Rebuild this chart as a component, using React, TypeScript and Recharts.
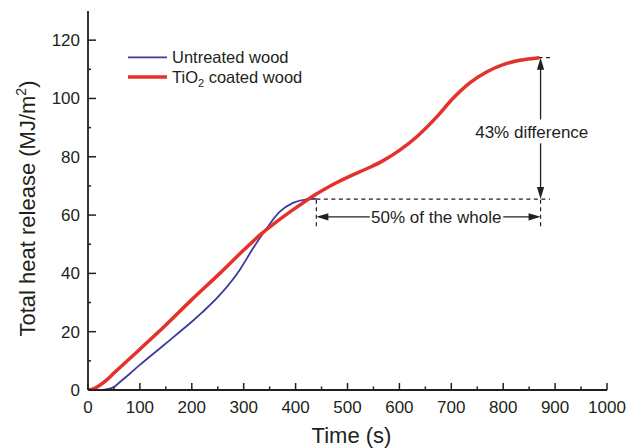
import React from 'react';
import {
  ComposedChart,
  Line,
  XAxis,
  YAxis,
  Legend,
  ReferenceLine,
  ReferenceDot,
  Label,
} from 'recharts';

// Cumulative heat release curves (time in s, THR in MJ/m2)
const untreatedTime = [0, 20, 35, 50, 60, 80, 100, 140, 177, 200, 220, 254, 292, 318, 344, 369, 395, 421, 440];
const untreatedTHR = [0, 0, 0.2, 1.0, 2.5, 5.5, 8.6, 14.5, 20, 23.4, 26.6, 32.6, 41.1, 48.6, 55.4, 61.1, 64.2, 65.4, 65.6];

const coatedTime = [0, 10, 20, 35, 50, 100, 150, 200, 254, 300, 331, 370, 408, 440, 472, 504, 536, 568, 600, 633, 671, 703, 735, 768, 800, 832, 870];
const coatedTHR = [0, 0.4, 1.3, 3.3, 5.8, 14, 22.3, 31, 40, 48, 53.1, 58.6, 63.4, 67.2, 70.5, 73.3, 75.8, 78.6, 82.2, 86.8, 93.5, 100, 105.3, 109.1, 111.6, 113.1, 114];

// Axis ticks
const timeTicks = [0, 50, 100, 150, 200, 250, 300, 350, 400, 450, 500, 550, 600, 650, 700, 750, 800, 850, 900, 950, 1000];
const thrTicks = [0, 10, 20, 30, 40, 50, 60, 70, 80, 90, 100, 110, 120];
const topTicks = [0, 100, 200, 300, 400, 500, 600, 700, 800, 900, 1000];
const rightTicks = [0, 13, 26, 39, 52, 65, 78, 91, 104, 117, 130];

// Series names, in legend order
const seriesNames = ['Untreated wood', 'TiO2 coated wood'];

// Annotation values
const untreatedTotal = 65.5;
const coatedTotal = 114;
const untreatedEnd = 440;
const coatedEnd = 872;
const dashEnd = 890;
const spanLevel = 59.4;
const spanTextGap = [543, 800];
const spanTextCenter = 671;
const diffTextGap = [84.6, 92.8];
const diffTextCenter = 855;
const diffTextLevel = 88.4;
const tickStubRange = [56.2, 65.5];

const untreatedData = untreatedTime.map((t, i) => ({ t, v: untreatedTHR[i] }));
const coatedData = coatedTime.map((t, i) => ({ t, v: coatedTHR[i] }));

const FONT = '"Liberation Sans", Arial, Helvetica, sans-serif';
const INK = '#231f20';
const BLUE = '#3b3a9e';
const RED = '#e4312a';

const XTick = (props: any) => {
  const { x, y, payload } = props;
  const v = payload.value;
  const major = v % 100 === 0;
  return (
    <g>
      <line x1={x} x2={x} y1={y} y2={y - (major ? 7 : 3.5)} stroke={INK} strokeWidth={1.5} />
      {major && (
        <text x={x} y={y + 23} textAnchor="middle" fontSize={17} fontFamily={FONT} fill={INK}>
          {v}
        </text>
      )}
    </g>
  );
};

const YTick = (props: any) => {
  const { x, y, payload } = props;
  const v = payload.value;
  const major = v % 20 === 0;
  return (
    <g>
      <line x1={x} x2={x + (major ? 8 : 3)} y1={y} y2={y} stroke={INK} strokeWidth={1.5} />
      {major && (
        <text x={x - 8} y={y + 6} textAnchor="end" fontSize={17} fontFamily={FONT} fill={INK}>
          {v}
        </text>
      )}
    </g>
  );
};

const TopTick = (props: any) => {
  const { x, y } = props;
  return <line x1={x} x2={x} y1={y} y2={y + 2.5} stroke={INK} strokeWidth={1.2} />;
};

const RightTick = (props: any) => {
  const { x, y } = props;
  return <line x1={x} x2={x - 2.5} y1={y} y2={y} stroke={INK} strokeWidth={1.2} />;
};

const renderLegend = (props: any) => {
  const items = [...(props.payload || [])].sort(
    (a: any, b: any) => seriesNames.indexOf(a.value) - seriesNames.indexOf(b.value)
  );
  return (
    <svg width={220} height={46} style={{ overflow: 'visible' }}>
      {items.map((item: any, i: number) => {
        const ly = 12.3 + i * 19.7;
        const isCoated = item.value === seriesNames[1];
        return (
          <g key={i}>
            <line x1={8} x2={47} y1={ly} y2={ly} stroke={item.color} strokeWidth={isCoated ? 3.5 : 1.8} />
            <text x={52} y={ly + 6} fontSize={16.5} fontFamily={FONT} fill={INK}>
              {isCoated ? (
                <>
                  TiO
                  <tspan fontSize={11} dy={4}>2</tspan>
                  <tspan dy={-4}> coated wood</tspan>
                </>
              ) : (
                item.value
              )}
            </text>
          </g>
        );
      })}
    </svg>
  );
};

const arrowHead = (dir: 'up' | 'down' | 'left' | 'right') => (props: any) => {
  const { cx, cy } = props;
  const L = 12;
  const W = 3.6;
  let pts = '';
  if (dir === 'up') pts = `${cx},${cy} ${cx - W},${cy + L} ${cx + W},${cy + L}`;
  if (dir === 'down') pts = `${cx},${cy} ${cx - W},${cy - L} ${cx + W},${cy - L}`;
  if (dir === 'left') pts = `${cx},${cy} ${cx + L},${cy - W} ${cx + L},${cy + W}`;
  if (dir === 'right') pts = `${cx},${cy} ${cx - L},${cy - W} ${cx - L},${cy + W}`;
  return <polygon points={pts} fill={INK} />;
};

const textShape = (label: string) => (props: any) => {
  const { cx, cy } = props;
  return (
    <text x={cx} y={cy + 6} textAnchor="middle" fontSize={17} fontFamily={FONT} fill={INK}>
      {label}
    </text>
  );
};

const YTitle = (props: any) => {
  const vb = props.viewBox || { x: 0, y: 0, width: 88, height: 379 };
  const cx = vb.x + 35;
  const cy = vb.y + vb.height / 2 + 8;
  return (
    <text
      x={cx}
      y={cy}
      transform={`rotate(-90 ${cx} ${cy})`}
      textAnchor="middle"
      fontSize={22}
      fontFamily={FONT}
      fill={INK}
    >
      Total heat release (MJ/m
      <tspan fontSize={14} dy={-9}>2</tspan>
      <tspan dy={9}>)</tspan>
    </text>
  );
};

const XTitle = (props: any) => {
  const vb = props.viewBox || { x: 88, y: 390, width: 519, height: 58 };
  return (
    <text
      x={vb.x + vb.width / 2 + 4}
      y={vb.y + 52.5}
      textAnchor="middle"
      fontSize={22}
      fontFamily={FONT}
      fill={INK}
    >
      Time (s)
    </text>
  );
};

export default function App() {
  const dash = '4 3.5';
  return (
    <div style={{ position: 'absolute', left: 0, top: 0, width: 628, height: 448, background: '#fff' }}>
      <ComposedChart width={628} height={448} margin={{ top: 11, right: 21, bottom: 0, left: 0 }}>
        <XAxis
          xAxisId="x"
          dataKey="t"
          type="number"
          domain={[0, 1000]}
          ticks={timeTicks}
          interval={0}
          tickSize={0}
          tickMargin={0}
          height={58}
          tickLine={false}
          axisLine={{ stroke: INK, strokeWidth: 1.8 }}
          tick={<XTick />}
          allowDataOverflow
        >
          <Label content={<XTitle />} />
        </XAxis>
        <XAxis
          xAxisId="top"
          orientation="top"
          type="number"
          domain={[0, 1000]}
          ticks={topTicks}
          interval={0}
          tickSize={0}
          tickMargin={0}
          height={0}
          tickLine={false}
          axisLine={{ stroke: INK, strokeWidth: 1.8 }}
          tick={<TopTick />}
        />
        <YAxis
          yAxisId="y"
          type="number"
          domain={[0, 130]}
          ticks={thrTicks}
          interval={0}
          tickSize={0}
          tickMargin={0}
          width={88}
          tickLine={false}
          axisLine={{ stroke: INK, strokeWidth: 1.8 }}
          tick={<YTick />}
          allowDataOverflow
        >
          <Label content={<YTitle />} />
        </YAxis>
        <YAxis
          yAxisId="r"
          orientation="right"
          type="number"
          domain={[0, 130]}
          ticks={rightTicks}
          interval={0}
          tickSize={0}
          tickMargin={0}
          width={0}
          tickLine={false}
          axisLine={{ stroke: INK, strokeWidth: 1.8 }}
          tick={<RightTick />}
        />

        <Legend
          layout="vertical"
          align="center"
          verticalAlign="middle"
          content={renderLegend}
          wrapperStyle={{ left: 120, top: 45, width: 220, height: 46 }}
        />

        {/* dashed guide lines */}
        <ReferenceLine
          xAxisId="x"
          yAxisId="y"
          segment={[{ x: untreatedEnd, y: untreatedTotal }, { x: dashEnd, y: untreatedTotal }]}
          stroke={INK}
          strokeWidth={1.2}
          strokeDasharray={dash}
        />
        <ReferenceLine
          xAxisId="x"
          yAxisId="y"
          segment={[{ x: coatedEnd - 4, y: coatedTotal }, { x: dashEnd, y: coatedTotal }]}
          stroke={INK}
          strokeWidth={1.2}
          strokeDasharray={dash}
        />
        <ReferenceLine
          xAxisId="x"
          yAxisId="y"
          segment={[{ x: untreatedEnd, y: tickStubRange[0] }, { x: untreatedEnd, y: tickStubRange[1] }]}
          stroke={INK}
          strokeWidth={1.2}
          strokeDasharray={dash}
        />
        <ReferenceLine
          xAxisId="x"
          yAxisId="y"
          segment={[{ x: coatedEnd, y: tickStubRange[0] }, { x: coatedEnd, y: tickStubRange[1] }]}
          stroke={INK}
          strokeWidth={1.2}
          strokeDasharray={dash}
        />

        {/* vertical difference arrow */}
        <ReferenceLine
          xAxisId="x"
          yAxisId="y"
          segment={[{ x: coatedEnd, y: coatedTotal - 3 }, { x: coatedEnd, y: diffTextGap[1] }]}
          stroke={INK}
          strokeWidth={1.3}
        />
        <ReferenceLine
          xAxisId="x"
          yAxisId="y"
          segment={[{ x: coatedEnd, y: diffTextGap[0] }, { x: coatedEnd, y: untreatedTotal + 3 }]}
          stroke={INK}
          strokeWidth={1.3}
        />
        <ReferenceDot xAxisId="x" yAxisId="y" x={coatedEnd} y={coatedTotal} shape={arrowHead('up')} />
        <ReferenceDot xAxisId="x" yAxisId="y" x={coatedEnd} y={untreatedTotal} shape={arrowHead('down')} />
        <ReferenceDot
          xAxisId="x"
          yAxisId="y"
          x={diffTextCenter}
          y={diffTextLevel}
          shape={textShape('43% difference')}
        />

        {/* horizontal span arrow */}
        <ReferenceLine
          xAxisId="x"
          yAxisId="y"
          segment={[{ x: untreatedEnd + 5, y: spanLevel }, { x: spanTextGap[0], y: spanLevel }]}
          stroke={INK}
          strokeWidth={1.3}
        />
        <ReferenceLine
          xAxisId="x"
          yAxisId="y"
          segment={[{ x: spanTextGap[1], y: spanLevel }, { x: coatedEnd - 5, y: spanLevel }]}
          stroke={INK}
          strokeWidth={1.3}
        />
        <ReferenceDot xAxisId="x" yAxisId="y" x={untreatedEnd} y={spanLevel} shape={arrowHead('left')} />
        <ReferenceDot xAxisId="x" yAxisId="y" x={coatedEnd} y={spanLevel} shape={arrowHead('right')} />
        <ReferenceDot
          xAxisId="x"
          yAxisId="y"
          x={spanTextCenter}
          y={spanLevel}
          shape={textShape('50% of the whole')}
        />

        <Line
          xAxisId="x"
          yAxisId="y"
          data={untreatedData}
          dataKey="v"
          name={seriesNames[0]}
          type="monotone"
          stroke={BLUE}
          strokeWidth={1.8}
          dot={false}
          activeDot={false}
          isAnimationActive={false}
        />
        <Line
          xAxisId="x"
          yAxisId="y"
          data={coatedData}
          dataKey="v"
          name={seriesNames[1]}
          type="monotone"
          stroke={RED}
          strokeWidth={3.5}
          dot={false}
          activeDot={false}
          isAnimationActive={false}
        />
      </ComposedChart>
    </div>
  );
}
